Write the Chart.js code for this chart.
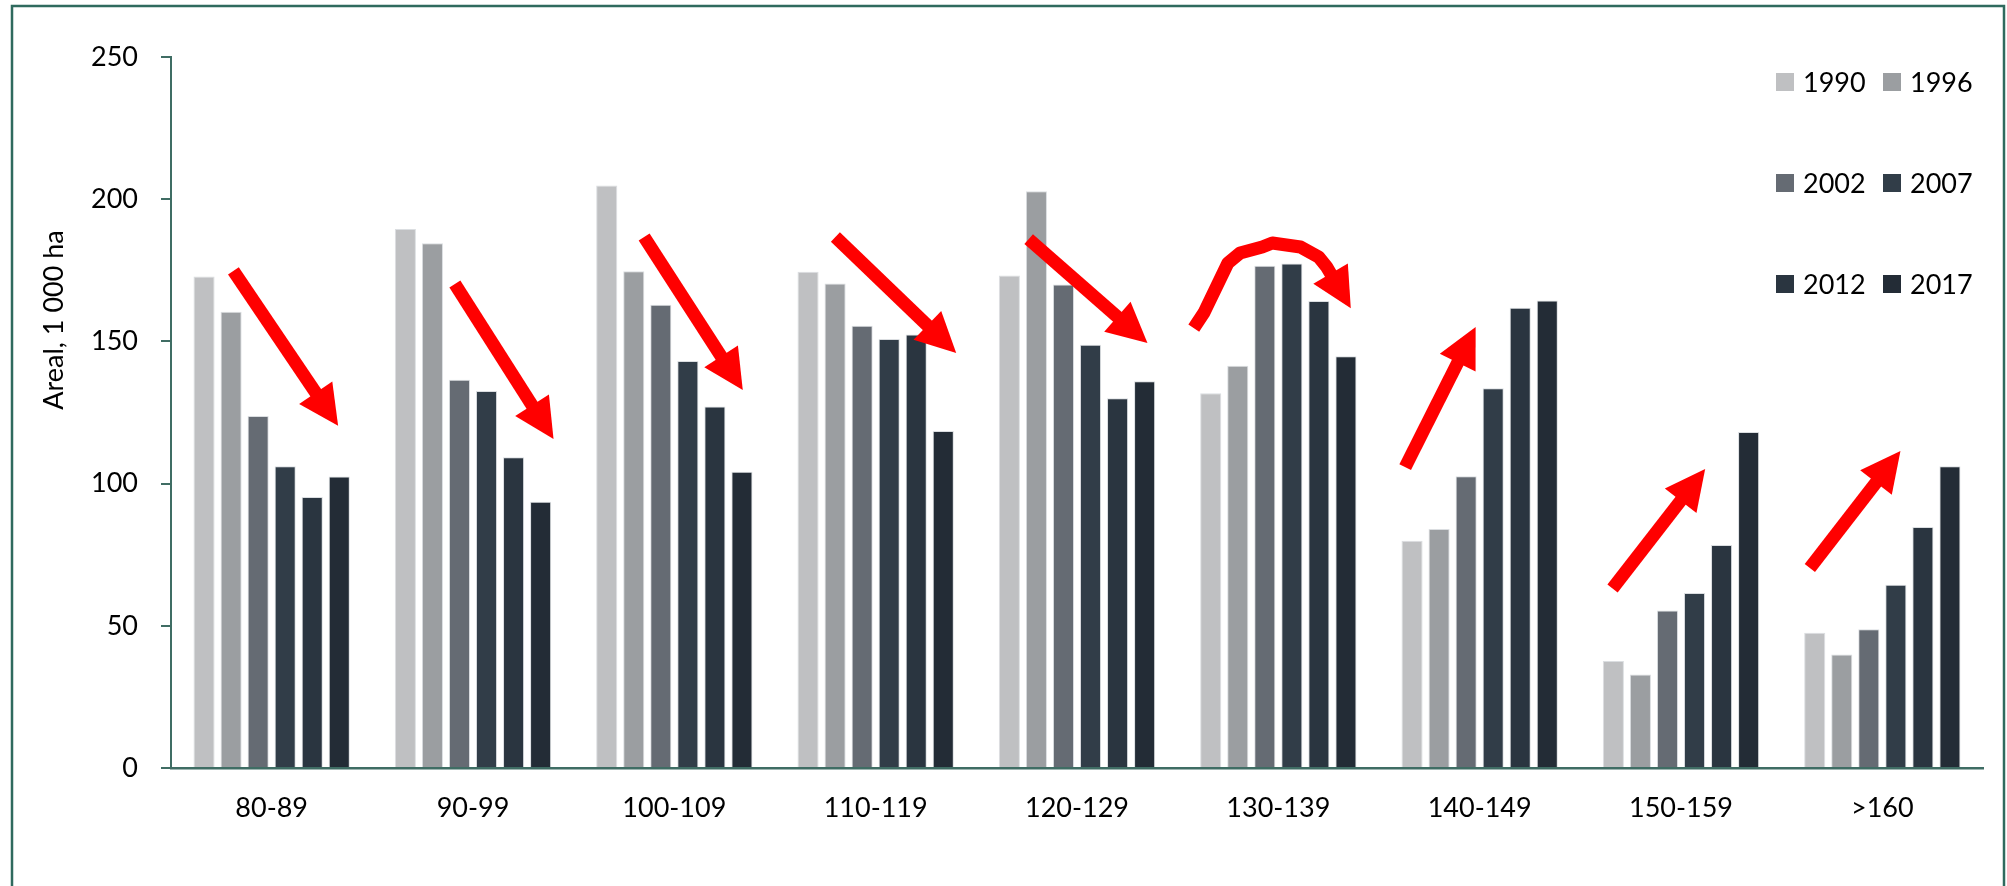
<!DOCTYPE html>
<html>
<head>
<meta charset="utf-8">
<script src="https://cdn.jsdelivr.net/npm/chart.js@4.4.1/dist/chart.umd.min.js"></script>
<style>
  html, body { margin: 0; padding: 0; background: #fff; }
  #wrap { width: 2007px; height: 886px; }
</style>
</head>
<body>
<div id="wrap"><canvas id="chart" width="2007" height="886"></canvas></div>
<script>
const categories = ['80-89', '90-99', '100-109', '110-119', '120-129', '130-139', '140-149', '150-159', '>160'];
const years = ['1990', '1996', '2002', '2007', '2012', '2017'];
const yearColors = ['#bfc0c2', '#9b9ea1', '#656b73', '#313d48', '#2a3540', '#232c36'];

const values1990 = [172.8, 189.5, 204.8, 174.5, 173.2, 131.8, 79.9, 37.6, 47.6];
const values1996 = [160.4, 184.5, 174.7, 170.4, 202.8, 141.4, 84.0, 32.9, 39.9];
const values2002 = [123.8, 136.5, 162.9, 155.5, 170.0, 176.6, 102.6, 55.4, 48.8];
const values2007 = [106.1, 132.6, 143.1, 150.8, 148.8, 177.4, 133.5, 61.5, 64.4];
const values2012 = [95.3, 109.3, 127.1, 152.4, 130.0, 164.2, 161.8, 78.4, 84.7];
const values2017 = [102.5, 93.6, 104.2, 118.5, 136.0, 144.8, 164.4, 118.1, 106.1];
const seriesValues = [values1990, values1996, values2002, values2007, values2012, values2017];

const yTicks = [0, 50, 100, 150, 200, 250];
const yTitle = 'Areal, 1 000 ha';

// red trend arrows, points in (category index, value) units; last point is the tip
const arrows = [
  [[-0.19, 174.8], [0.33, 120.3]],
  [[0.91, 170.2], [1.40, 115.7]],
  [[1.85, 186.7], [2.34, 132.9]],
  [[2.80, 186.7], [3.40, 145.9]],
  [[3.76, 186.0], [4.35, 149.4]],
  [[4.58, 154.7], [4.63, 160.0], [4.75, 177.6], [4.81, 181.1], [4.92, 183.2], [4.97, 184.6],
   [5.11, 183.2], [5.20, 179.7], [5.24, 176.2], [5.36, 161.7]],
  [[5.63, 105.8], [5.98, 155.1]],
  [[6.66, 63.1], [7.12, 105.1]],
  [[7.64, 70.3], [8.09, 111.5]],
];

const FONT = 'Lato, "Open Sans", sans-serif';
const AXIS_COLOR = '#3f6d64';
const FRAME_COLOR = '#2f6a5e';

const framePlugin = {
  id: 'frame',
  beforeDraw(chart) {
    const { ctx } = chart;
    ctx.save();
    ctx.fillStyle = '#fff';
    ctx.fillRect(0, 0, chart.width, chart.height);
    ctx.strokeStyle = FRAME_COLOR;
    ctx.lineWidth = 2.5;
    ctx.strokeRect(12, 6, 1992, 900);
    ctx.restore();
  },
};

const yTitlePlugin = {
  id: 'yTitle',
  afterDraw(chart) {
    const { ctx } = chart;
    ctx.save();
    ctx.translate(54, 320);
    ctx.rotate(-Math.PI / 2);
    ctx.font = `27px ${FONT}`;
    ctx.fillStyle = '#000';
    ctx.textAlign = 'center';
    ctx.textBaseline = 'middle';
    ctx.fillText(yTitle, 0, 0);
    ctx.restore();
  },
};

const legendPlugin = {
  id: 'cornerLegend',
  afterDraw(chart) {
    const { ctx } = chart;
    ctx.save();
    ctx.font = `27px ${FONT}`;
    ctx.textBaseline = 'middle';
    ctx.textAlign = 'left';
    chart.data.datasets.forEach((ds, i) => {
      const x = 1776 + (i % 2) * 107;
      const y = 82 + Math.floor(i / 2) * 101;
      ctx.fillStyle = ds.backgroundColor;
      ctx.fillRect(x, y - 9, 18, 18);
      ctx.fillStyle = '#000';
      ctx.fillText(ds.label, x + 27, y + 1);
    });
    ctx.restore();
  },
};

function drawArrow(ctx, pts) {
  const shaft = 13;
  const headLen = 40;
  const headHalf = 20;
  const tip = pts[pts.length - 1];
  const prev = pts[pts.length - 2];
  const dx = tip[0] - prev[0];
  const dy = tip[1] - prev[1];
  const len = Math.hypot(dx, dy);
  const ux = dx / len;
  const uy = dy / len;
  const bx = tip[0] - ux * headLen;
  const by = tip[1] - uy * headLen;

  ctx.beginPath();
  ctx.moveTo(pts[0][0], pts[0][1]);
  for (let i = 1; i < pts.length - 1; i++) ctx.lineTo(pts[i][0], pts[i][1]);
  ctx.lineTo(bx + ux * 2, by + uy * 2);
  ctx.lineWidth = shaft;
  ctx.lineCap = 'butt';
  ctx.lineJoin = 'round';
  ctx.stroke();

  ctx.beginPath();
  ctx.moveTo(tip[0], tip[1]);
  ctx.lineTo(bx - uy * headHalf, by + ux * headHalf);
  ctx.lineTo(bx + uy * headHalf, by - ux * headHalf);
  ctx.closePath();
  ctx.fill();
}

const arrowPlugin = {
  id: 'trendArrows',
  afterDatasetsDraw(chart) {
    const { ctx } = chart;
    const xs = chart.scales.x;
    const ys = chart.scales.y;
    const x0 = xs.getPixelForValue(0);
    const step = xs.getPixelForValue(1) - x0;
    ctx.save();
    ctx.strokeStyle = '#ff0000';
    ctx.fillStyle = '#ff0000';
    arrows.forEach((arrow) => {
      const pts = arrow.map(([c, v]) => [x0 + c * step, ys.getPixelForValue(v)]);
      drawArrow(ctx, pts);
    });
    ctx.restore();
  },
};

new Chart(document.getElementById('chart'), {
  type: 'bar',
  data: {
    labels: categories,
    datasets: years.map((year, i) => ({
      label: year,
      data: seriesValues[i],
      backgroundColor: yearColors[i],
      borderColor: 'rgba(215,218,222,0.9)',
      borderWidth: { top: 1, left: 1, right: 1, bottom: 0 },
      borderSkipped: 'bottom',
      categoryPercentage: 0.806,
      barPercentage: 0.78,
    })),
  },
  options: {
    responsive: false,
    devicePixelRatio: 1,
    animation: false,
    layout: { padding: { left: 0, top: 57, right: 24, bottom: 0 } },
    plugins: {
      legend: { display: false },
      tooltip: { enabled: false },
    },
    scales: {
      x: {
        grid: { display: false, drawTicks: false },
        border: { display: true, color: AXIS_COLOR, width: 2.5 },
        ticks: { color: '#000', font: { family: FONT, size: 27 }, padding: 24, maxRotation: 0 },
        afterFit(scale) { scale.height = 118; },
      },
      y: {
        min: 0,
        max: 250,
        afterBuildTicks(scale) { scale.ticks = yTicks.map((v) => ({ value: v })); },
        grid: { display: true, drawOnChartArea: false, drawTicks: true, tickLength: 10, color: AXIS_COLOR, lineWidth: 2 },
        border: { display: true, color: AXIS_COLOR, width: 2 },
        ticks: { color: '#000', font: { family: FONT, size: 27 }, padding: 23 },
        afterFit(scale) { scale.width = 171; },
      },
    },
  },
  plugins: [framePlugin, arrowPlugin, yTitlePlugin, legendPlugin],
});
</script>
</body>
</html>
